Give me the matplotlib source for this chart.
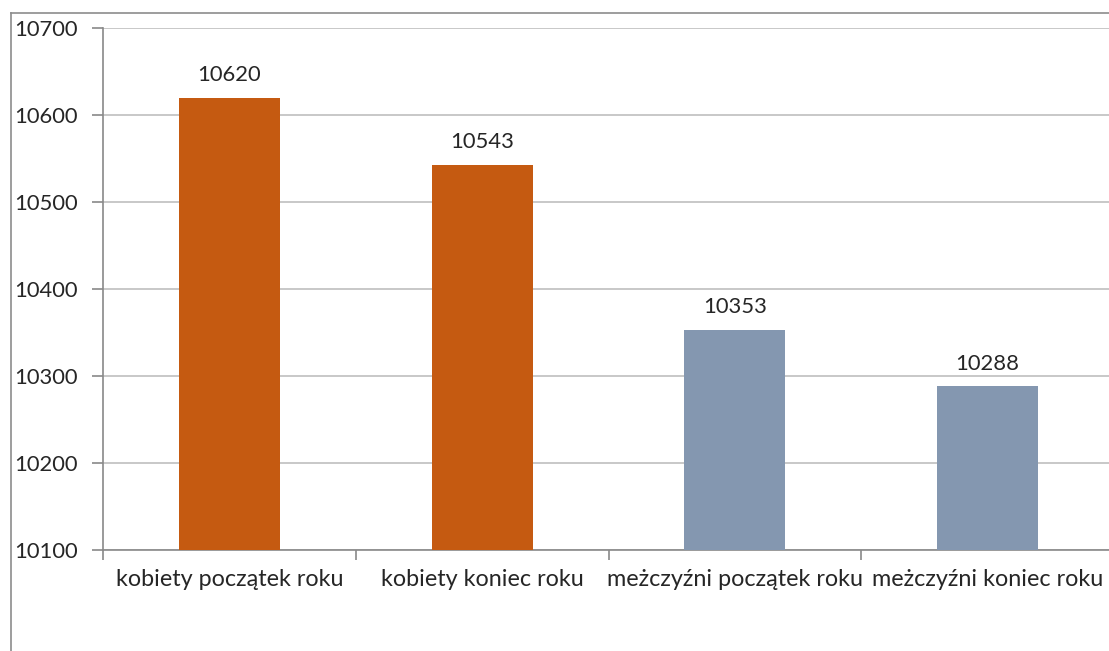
import matplotlib.pyplot as plt
from matplotlib.lines import Line2D

# dane
kategorie = ["kobiety początek roku", "kobiety koniec roku",
             "meżczyźni początek roku", "meżczyźni koniec roku"]
wartosci = [10620, 10543, 10353, 10288]
kolory = ["#C55A11", "#C55A11", "#8497B0", "#8497B0"]
y_ticks = [10100, 10200, 10300, 10400, 10500, 10600, 10700]

plt.rcParams['font.family'] = ['Lato', 'DejaVu Sans']

W, H = 1109, 651
fig = plt.figure(figsize=(W / 100, H / 100), dpi=100)
fig.patch.set_facecolor("white")

# obszar wykresu (pikselowo jak w Excelu)
x0, x1 = 103, 1114
y_top, y_bot = 28, 550
ax = fig.add_axes([x0 / W, 1 - y_bot / H, (x1 - x0) / W, (y_bot - y_top) / H])

pos = list(range(len(kategorie)))
ax.bar(pos, wartosci, width=0.4, color=kolory, zorder=3)

ax.set_xlim(-0.5, len(kategorie) - 0.5)
ax.set_ylim(10100, 10700)
ax.set_yticks(y_ticks)
ax.set_yticklabels([str(t) for t in y_ticks], fontsize=15.8, color="#262626")
ax.yaxis.grid(True, color="#BFBFBF", lw=1.2, zorder=0)

ax.set_xticks(pos)
ax.set_xticklabels(kategorie, fontsize=16.8, color="#262626")
ax.tick_params(axis="x", which="major", length=0, pad=14)
ax.set_xticks([-0.5, 0.5, 1.5, 2.5], minor=True)
ax.tick_params(axis="x", which="minor", length=7, color="#898989", width=1.2)
ax.tick_params(axis="y", length=8, color="#898989", width=1.2, pad=10)

for s in ["top", "right"]:
    ax.spines[s].set_visible(False)
for s in ["left", "bottom"]:
    ax.spines[s].set_color("#898989")
    ax.spines[s].set_linewidth(1.2)

# etykiety danych
for x, v in zip(pos, wartosci):
    ax.annotate(str(v), (x, v), xytext=(0, 9), textcoords="offset points",
                ha="center", va="bottom", fontsize=15.8, color="#262626")

# ramka obszaru wykresu (lewa i górna krawędź)
fig.add_artist(Line2D([10.5 / W, 10.5 / W], [0, 1 - 13 / H], transform=fig.transFigure,
                      color="#8C8C8C", lw=1.2))
fig.add_artist(Line2D([10.5 / W, 1], [1 - 13 / H, 1 - 13 / H], transform=fig.transFigure,
                      color="#8C8C8C", lw=1.2))

fig.savefig("out.png", dpi=100)
